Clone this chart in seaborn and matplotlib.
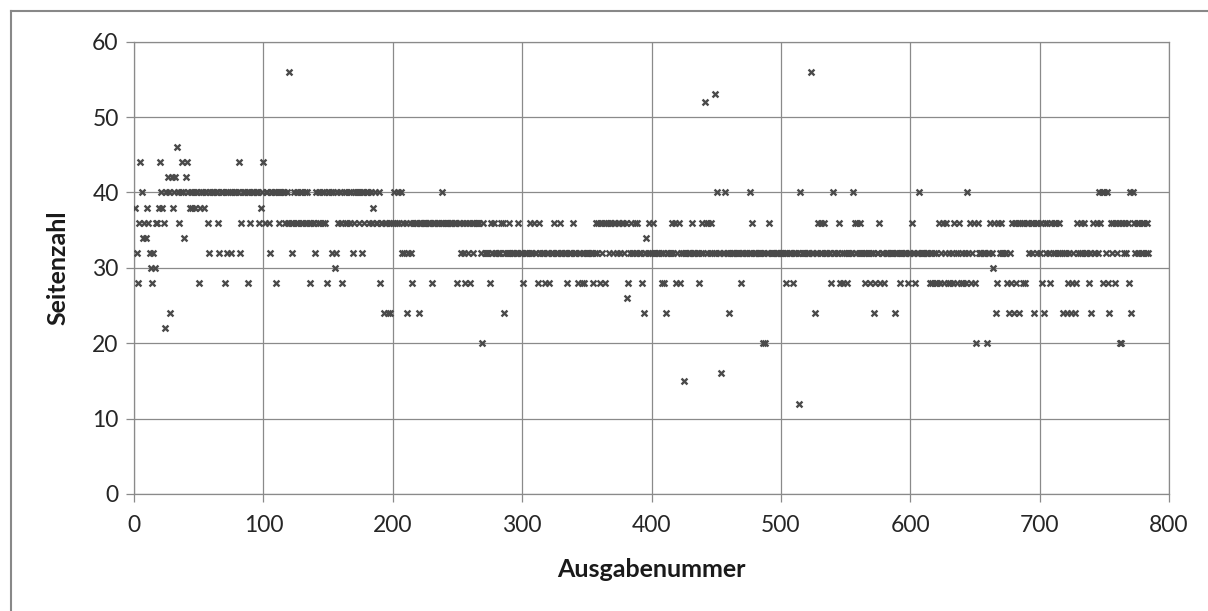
import numpy as np
import pandas as pd
import matplotlib
matplotlib.use("Agg")
import matplotlib.pyplot as plt
import seaborn as sns
from matplotlib.lines import Line2D

seiten_001_100 = [
    38, 32, 28, 36, 44, 40, 34, 36, 34, 38,
    36, 32, 30, 28, 32, 30, 36, 36, 38, 44,
    40, 38, 36, 22, 40, 42, 40, 24, 42, 38,
    40, 42, 46, 40, 36, 40, 44, 40, 34, 42,
    44, 40, 38, 40, 38, 40, 38, 40, 40, 28,
    38, 40, 40, 38, 40, 40, 36, 32, 40, 40,
    40, 40, 40, 40, 36, 32, 40, 40, 40, 28,
    40, 32, 40, 40, 32, 40, 40, 40, 40, 40,
    44, 32, 36, 40, 40, 40, 40, 28, 40, 36,
    40, 40, 40, 40, 40, 40, 36, 38, 40, 44,
]
seiten_101_200 = [
    36, 40, 40, 36, 32, 40, 40, 40, 40, 28,
    40, 36, 40, 40, 40, 40, 36, 40, 36, 56,
    36, 32, 36, 40, 36, 40, 36, 40, 36, 40,
    36, 40, 36, 40, 36, 28, 36, 36, 36, 32,
    40, 36, 40, 36, 40, 36, 40, 36, 28, 40,
    40, 40, 32, 40, 30, 32, 40, 36, 40, 36,
    28, 40, 36, 40, 36, 40, 36, 40, 32, 36,
    40, 40, 40, 36, 40, 32, 40, 36, 40, 40,
    40, 36, 40, 36, 38, 40, 36, 36, 40, 28,
    36, 36, 24, 36, 36, 24, 36, 24, 36, 36,
]
seiten_201_300 = [
    40, 36, 36, 40, 36, 40, 32, 36, 32, 36,
    24, 32, 36, 32, 28, 36, 36, 36, 36, 24,
    36, 36, 36, 36, 36, 36, 36, 36, 36, 28,
    36, 36, 36, 36, 36, 36, 36, 40, 36, 36,
    36, 36, 36, 36, 36, 36, 36, 36, 36, 28,
    36, 36, 32, 36, 32, 28, 36, 32, 36, 28,
    36, 32, 36, 36, 36, 36, 36, 32, 20, 36,
    32, 32, 32, 32, 28, 36, 32, 36, 32, 32,
    32, 32, 32, 36, 36, 24, 32, 32, 32, 36,
    32, 32, 32, 32, 32, 32, 36, 32, 32, 32,
]
seiten_301_400 = [
    28, 32, 32, 32, 32, 36, 32, 32, 36, 32,
    32, 28, 36, 32, 32, 32, 32, 28, 32, 32,
    28, 32, 32, 32, 36, 32, 32, 32, 36, 32,
    32, 32, 32, 32, 28, 32, 32, 32, 36, 32,
    32, 32, 28, 32, 32, 28, 32, 28, 32, 32,
    32, 32, 32, 32, 28, 32, 36, 32, 36, 28,
    36, 32, 36, 28, 36, 36, 32, 36, 36, 32,
    36, 36, 32, 36, 36, 32, 36, 36, 32, 36,
    26, 28, 32, 36, 32, 32, 36, 32, 36, 32,
    32, 32, 28, 24, 32, 34, 32, 36, 32, 32,
]
seiten_401_500 = [
    36, 32, 32, 32, 32, 32, 32, 28, 32, 28,
    24, 32, 32, 32, 32, 36, 32, 36, 28, 32,
    36, 28, 32, 32, 15, 32, 32, 32, 32, 32,
    36, 32, 32, 32, 32, 32, 28, 32, 36, 32,
    52, 36, 32, 36, 32, 36, 32, 32, 53, 32,
    40, 32, 32, 16, 32, 32, 40, 32, 32, 24,
    32, 32, 32, 32, 32, 32, 32, 32, 28, 32,
    32, 32, 32, 32, 32, 40, 32, 36, 32, 32,
    32, 32, 32, 32, 32, 20, 32, 20, 32, 32,
    36, 32, 32, 32, 32, 32, 32, 32, 32, 32,
]
seiten_501_600 = [
    32, 32, 32, 28, 32, 32, 32, 32, 28, 32,
    32, 32, 32, 12, 40, 32, 32, 32, 32, 32,
    32, 32, 56, 32, 32, 24, 32, 32, 36, 32,
    36, 32, 36, 32, 32, 32, 32, 32, 28, 40,
    32, 32, 32, 32, 36, 28, 32, 28, 32, 32,
    28, 32, 32, 32, 32, 40, 36, 32, 36, 32,
    36, 32, 32, 32, 28, 32, 32, 32, 28, 32,
    32, 24, 28, 32, 32, 36, 28, 32, 32, 28,
    32, 32, 32, 32, 32, 32, 32, 24, 32, 32,
    32, 28, 32, 32, 32, 32, 32, 28, 32, 32,
]
seiten_601_700 = [
    36, 32, 32, 28, 32, 32, 40, 32, 32, 32,
    32, 32, 32, 32, 28, 32, 28, 32, 28, 32,
    28, 36, 28, 32, 36, 28, 32, 36, 28, 32,
    28, 32, 28, 36, 32, 28, 32, 36, 28, 32,
    28, 32, 28, 40, 32, 36, 28, 32, 36, 28,
    20, 36, 32, 32, 32, 32, 32, 32, 20, 32,
    32, 36, 32, 30, 36, 24, 28, 36, 32, 36,
    32, 32, 32, 32, 28, 24, 32, 28, 36, 24,
    36, 28, 36, 24, 36, 36, 28, 36, 28, 36,
    36, 32, 36, 32, 36, 24, 36, 32, 36, 32,
]
seiten_701_784 = [
    36, 28, 24, 36, 32, 36, 32, 28, 36, 32,
    36, 32, 36, 32, 36, 32, 32, 24, 32, 32,
    24, 28, 32, 24, 28, 32, 24, 28, 36, 32,
    32, 36, 32, 36, 32, 32, 32, 28, 32, 24,
    36, 32, 32, 36, 32, 40, 36, 40, 28, 40,
    32, 40, 28, 24, 36, 32, 36, 28, 36, 32,
    36, 20, 20, 36, 32, 36, 32, 36, 28, 40,
    24, 40, 36, 32, 36, 32, 36, 32, 36, 32,
    36, 32, 36, 32,
]

seitenzahl = (seiten_001_100 + seiten_101_200 + seiten_201_300 + seiten_301_400
              + seiten_401_500 + seiten_501_600 + seiten_601_700 + seiten_701_784)
ausgabe = list(range(1, len(seitenzahl) + 1))

x_ticks = [0, 100, 200, 300, 400, 500, 600, 700, 800]
y_ticks = [0, 10, 20, 30, 40, 50, 60]

df = pd.DataFrame({"Ausgabenummer": ausgabe, "Seitenzahl": seitenzahl})

plt.rcParams["font.family"] = ["Lato", "DejaVu Sans"]
grau = "#8a8a8a"

fig = plt.figure(figsize=(12.08, 6.11), dpi=100)
ax = fig.add_axes([134 / 1208, 117 / 611, 1035 / 1208, 452.3 / 611])

sns.scatterplot(data=df, x="Ausgabenummer", y="Seitenzahl", marker="x",
                color="#4a4a4a", s=18, linewidth=1.7, ax=ax, zorder=3)

ax.set_xlim(0, 800)
ax.set_ylim(0, 60)
ax.set_xticks(x_ticks)
ax.set_yticks(y_ticks)
ax.grid(True, color=grau, linewidth=0.9)
ax.set_axisbelow(True)
for sp in ax.spines.values():
    sp.set_color(grau)
    sp.set_linewidth(0.9)
ax.tick_params(axis="both", colors=grau, length=6, width=0.9,
               labelsize=16.5, labelcolor="#262626")
ax.tick_params(axis="x", pad=9)
ax.tick_params(axis="y", pad=5)

ax.set_xlabel("Ausgabenummer", fontsize=18, fontweight="bold", color="#1a1a1a")
ax.set_ylabel("Seitenzahl", fontsize=18, fontweight="bold", color="#1a1a1a")
ax.xaxis.label.set_va("center")
ax.yaxis.label.set_va("center")
ax.xaxis.set_label_coords(0.5, -0.166)
ax.yaxis.set_label_coords(-0.0734, 0.5)

# Rahmen des Diagrammbereichs (rechts und unten abgeschnitten)
fig.add_artist(Line2D([11 / 1208, 11 / 1208], [0, 600 / 611], color="#888888", lw=1.5))
fig.add_artist(Line2D([11 / 1208, 1], [600 / 611, 600 / 611], color="#888888", lw=1.5))

fig.savefig("out.png", dpi=100)
